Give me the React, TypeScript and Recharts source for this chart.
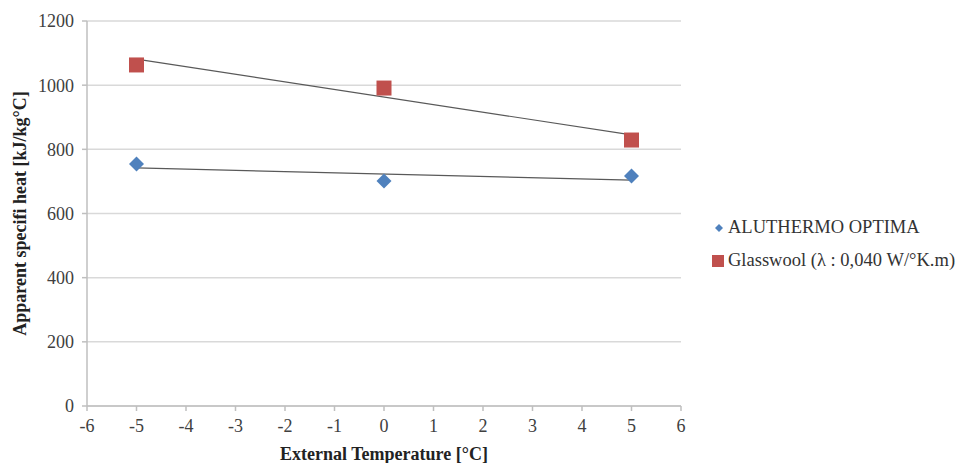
import { ScatterChart, Scatter, XAxis, YAxis, CartesianGrid } from "recharts";

const temperatures = [-5, 0, 5];
const aluthermoValues = [754, 701, 717];
const glasswoolValues = [1063, 991, 829];

// trendline ends (x = -5 and x = 5)
const trendX = [-5, 5];
const aluthermoTrend = [742, 704];
const glasswoolTrend = [1081, 845];

const xTicks = [-6, -5, -4, -3, -2, -1, 0, 1, 2, 3, 4, 5, 6];
const yTicks = [0, 200, 400, 600, 800, 1000, 1200];

const SERIES = [
  { name: "ALUTHERMO OPTIMA", color: "#4F81BD", shape: "diamond" },
  { name: "Glasswool (λ : 0,040 W/°K.m)", color: "#C0504D", shape: "square" },
];

const FONT = "Liberation Serif, Times New Roman, serif";

const aluthermoData = temperatures.map((t, i) => ({ x: t, y: aluthermoValues[i] }));
const glasswoolData = temperatures.map((t, i) => ({ x: t, y: glasswoolValues[i] }));
const aluthermoTrendData = trendX.map((t, i) => ({ x: t, y: aluthermoTrend[i] }));
const glasswoolTrendData = trendX.map((t, i) => ({ x: t, y: glasswoolTrend[i] }));

const Diamond = (props: any) => {
  const { cx, cy } = props;
  const r = 7.5;
  return (
    <polygon
      points={`${cx},${cy - r} ${cx + r},${cy} ${cx},${cy + r} ${cx - r},${cy}`}
      fill="#4F81BD"
    />
  );
};

const Square = (props: any) => {
  const { cx, cy } = props;
  const s = 15;
  return <rect x={cx - s / 2} y={cy - s / 2} width={s} height={s} fill="#C0504D" />;
};

const NoDot = () => <g />;

const tickStyle = { fill: "#404040", fontSize: 18, fontFamily: FONT, style: { fontFamily: FONT } };

function LegendBox() {
  return (
    <div
      style={{
        position: "absolute",
        left: 711,
        top: 211,
        fontFamily: FONT,
        fontSize: 18.5,
        color: "#333",
        whiteSpace: "nowrap",
      }}
    >
      {SERIES.map((s) => (
        <div key={s.name} style={{ display: "flex", alignItems: "center", height: 33 }}>
          <svg width={14} height={14} style={{ marginRight: 3 }}>
            {s.shape === "diamond" ? (
              <polygon points="8,3 12,7 8,11 4,7" fill={s.color} />
            ) : (
              <rect x={1} y={1} width={12} height={12} fill={s.color} />
            )}
          </svg>
          <span>{s.name}</span>
        </div>
      ))}
    </div>
  );
}

export default function App() {
  return (
    <div style={{ position: "absolute", left: 0, top: 0, width: 959, height: 463, background: "#fff" }}>
      <ScatterChart
        width={959}
        height={463}
        margin={{ top: 21, right: 278, bottom: 0, left: 0 }}
        style={{ fontFamily: FONT }}
      >
        <CartesianGrid horizontal vertical={false} stroke="#d9d9d9" strokeWidth={1.5} />
        <XAxis
          type="number"
          dataKey="x"
          domain={[-6, 6]}
          ticks={xTicks}
          interval={0}
          height={57}
          stroke="#bfbfbf"
          strokeWidth={1.5}
          tickSize={5}
          tickMargin={8}
          tick={tickStyle}
          label={{
            value: "External Temperature [°C]",
            position: "insideBottom",
            offset: 3,
            style: { fill: "#222", fontSize: 18, fontWeight: "bold", fontFamily: FONT },
          }}
        />
        <YAxis
          type="number"
          dataKey="y"
          domain={[0, 1200]}
          ticks={yTicks}
          interval={0}
          width={87}
          stroke="#bfbfbf"
          strokeWidth={1.5}
          tickSize={5}
          tickMargin={8}
          tick={tickStyle}
          label={{
            value: "Apparent specifi heat [kJ/kg°C]",
            angle: -90,
            position: "insideLeft",
            offset: 20,
            style: { textAnchor: "middle", fill: "#222", fontSize: 18, fontWeight: "bold", fontFamily: FONT },
          }}
        />
        <Scatter
          name="glasswool trend"
          data={glasswoolTrendData}
          line={{ stroke: "#595959", strokeWidth: 1.2 }}
          shape={NoDot}
          legendType="none"
          isAnimationActive={false}
        />
        <Scatter
          name="aluthermo trend"
          data={aluthermoTrendData}
          line={{ stroke: "#595959", strokeWidth: 1.2 }}
          shape={NoDot}
          legendType="none"
          isAnimationActive={false}
        />
        <Scatter
          name={SERIES[0].name}
          data={aluthermoData}
          shape={Diamond}
          isAnimationActive={false}
        />
        <Scatter
          name={SERIES[1].name}
          data={glasswoolData}
          shape={Square}
          isAnimationActive={false}
        />
      </ScatterChart>
      <LegendBox />
    </div>
  );
}
